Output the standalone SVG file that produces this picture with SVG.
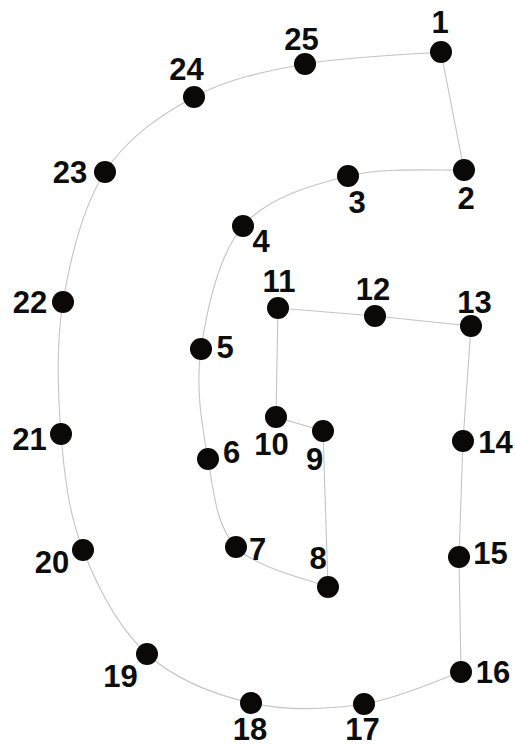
<svg xmlns="http://www.w3.org/2000/svg" width="515" height="746" viewBox="0 0 515 746">
<style>
.e{fill:none;stroke:#c4c4c4;stroke-width:1.1}
.d{fill:#0a0908}
.t{font-family:"Liberation Sans",Arial,sans-serif;font-weight:bold;font-size:31px;fill:#0d0d0d;text-anchor:middle}
</style>
<rect width="515" height="746" fill="#fff"/>
<g id="connectors">
<path class="e" d="M441,52 L464,170"/>
<path class="e" d="M464,170 C444.7,171 384.8,166.7 348,176 C311.2,185.3 267.5,197.2 243,226 C218.5,254.8 206.8,310.2 201,349 C195.2,387.8 202.2,426 208,459 C213.8,492 216,525.7 236,547 C256,568.3 312.7,580.3 328,587"/>
<path class="e" d="M328,587 L323,431 L276,417 L278,308 L375,316 L471,326 L463,441 L459,557 L461,672"/>
<path class="e" d="M461,672 C444.8,677.3 399,698.8 364,704 C329,709.2 287.2,711.3 251,703 C214.8,694.7 175,679.5 147,654 C119,628.5 97.3,586.7 83,550 C68.7,513.3 64.3,475.3 61,434 C57.7,392.7 55.7,345.7 63,302 C70.3,258.3 83.2,206.2 105,172 C126.8,137.8 160.7,115 194,97 C227.3,79 263.8,71.5 305,64 C346.2,56.5 418.3,54 441,52"/>
</g>
<g id="n1"><circle class="d" cx="441" cy="52" r="11"/><text class="t" x="440" y="33">1</text></g>
<g id="n2"><circle class="d" cx="464" cy="170" r="11"/><text class="t" x="466" y="209">2</text></g>
<g id="n3"><circle class="d" cx="348" cy="176" r="11"/><text class="t" x="357" y="213">3</text></g>
<g id="n4"><circle class="d" cx="243" cy="226" r="11"/><text class="t" x="261" y="252">4</text></g>
<g id="n5"><circle class="d" cx="201" cy="349" r="11"/><text class="t" x="225" y="358">5</text></g>
<g id="n6"><circle class="d" cx="208" cy="459" r="11"/><text class="t" x="231.5" y="463">6</text></g>
<g id="n7"><circle class="d" cx="236" cy="547" r="11"/><text class="t" x="257.5" y="560">7</text></g>
<g id="n8"><circle class="d" cx="328" cy="587" r="11"/><text class="t" x="318" y="569">8</text></g>
<g id="n9"><circle class="d" cx="323" cy="431" r="11"/><text class="t" x="314.5" y="470">9</text></g>
<g id="n10"><circle class="d" cx="276" cy="417" r="11"/><text class="t" x="271.5" y="455">10</text></g>
<g id="n11"><circle class="d" cx="278" cy="308" r="11"/><text class="t" x="279" y="292">11</text></g>
<g id="n12"><circle class="d" cx="375" cy="316" r="11"/><text class="t" x="373" y="300">12</text></g>
<g id="n13"><circle class="d" cx="471" cy="326" r="11"/><text class="t" x="474.5" y="313">13</text></g>
<g id="n14"><circle class="d" cx="463" cy="441" r="11"/><text class="t" x="495.5" y="453">14</text></g>
<g id="n15"><circle class="d" cx="459" cy="557" r="11"/><text class="t" x="490.5" y="564">15</text></g>
<g id="n16"><circle class="d" cx="461" cy="672" r="11"/><text class="t" x="493" y="683">16</text></g>
<g id="n17"><circle class="d" cx="364" cy="704" r="11"/><text class="t" x="362.5" y="740">17</text></g>
<g id="n18"><circle class="d" cx="251" cy="703" r="11"/><text class="t" x="250" y="740">18</text></g>
<g id="n19"><circle class="d" cx="147" cy="654" r="11"/><text class="t" x="120.5" y="687">19</text></g>
<g id="n20"><circle class="d" cx="83" cy="550" r="11"/><text class="t" x="52" y="573">20</text></g>
<g id="n21"><circle class="d" cx="61" cy="434" r="11"/><text class="t" x="29.5" y="450">21</text></g>
<g id="n22"><circle class="d" cx="63" cy="302" r="11"/><text class="t" x="30" y="313">22</text></g>
<g id="n23"><circle class="d" cx="105" cy="172" r="11"/><text class="t" x="70" y="183">23</text></g>
<g id="n24"><circle class="d" cx="194" cy="97" r="11"/><text class="t" x="186.5" y="80">24</text></g>
<g id="n25"><circle class="d" cx="305" cy="64" r="11"/><text class="t" x="301.5" y="50">25</text></g>
</svg>
